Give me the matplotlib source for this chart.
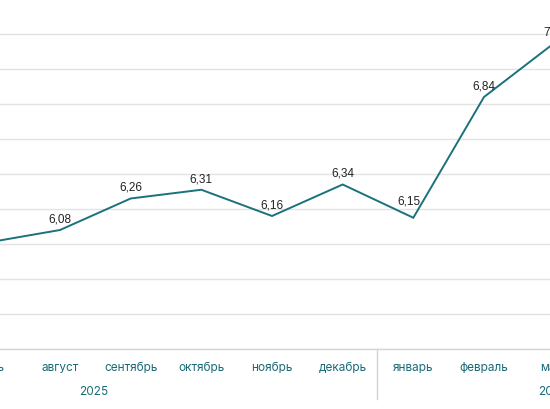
import matplotlib
matplotlib.use('Agg')
import matplotlib.pyplot as plt
import matplotlib.transforms as mtransforms
import numpy as np

# monthly values (июль 2025 - март 2026)
months = ['июль', 'август', 'сентябрь', 'октябрь', 'ноябрь', 'декабрь',
          'январь', 'февраль', 'март']
values = [6.01, 6.08, 6.26, 6.31, 6.16, 6.34, 6.15, 6.84, 7.15]
years = ['2025', '2026']
year_pos = [1.48, 7.98]

teal = '#1b717c'
label_teal = '#1a6b78'

fig = plt.figure(figsize=(5.5, 4.1), dpi=100)
ax = fig.add_axes([0, 60/410, 1, 350/410])

x = np.arange(len(months))
ax.plot(x, values, color=teal, lw=1.4, solid_joinstyle='miter', zorder=3)

# value labels above points (январь is lifted a bit off the line)
for xi, v in zip(x, values):
    off = (-3.2, 12.2) if months[xi] == 'январь' else (0, 8.4)
    ax.annotate(('%.2f' % v).replace('.', ','), (xi, v), xytext=off,
                textcoords='offset points', ha='center', va='center',
                fontsize=8.5, color='#222222', family='Liberation Sans',
                annotation_clip=False)

ax.set_xticks([])
ax.set_yticks(np.arange(5.4, 7.41, 0.2))
ax.yaxis.grid(True, color='#e3e3e3', lw=1)
ax.set_axisbelow(True)
ax.tick_params(axis='y', left=False, labelleft=False)

ax.set_xlim(0.151, 7.934)
ax.set_ylim(5.4, 7.4)

for s in ['top', 'left', 'right']:
    ax.spines[s].set_visible(False)
ax.spines['bottom'].set_color('#d4d4d4')
ax.spines['bottom'].set_linewidth(1)

trans = mtransforms.blended_transform_factory(ax.transData, ax.transAxes)

# month labels as plain texts so the cut ones at the edges still show
for xi, m in zip(x, months):
    ax.text(xi, -18/350, m, transform=trans, ha='center', va='center',
            fontsize=8.5, color=label_teal, family='Inter', clip_on=False)

for yp, yl in zip(year_pos, years):
    ax.text(yp, -0.12, yl, transform=trans, ha='center', va='center',
            fontsize=8.5, color=label_teal, family='Inter')

# separator between years
ax.plot([5.486, 5.486], [0, -0.143], transform=trans, color='#d4d4d4', lw=1, clip_on=False)

fig.savefig('out.png', dpi=100)
